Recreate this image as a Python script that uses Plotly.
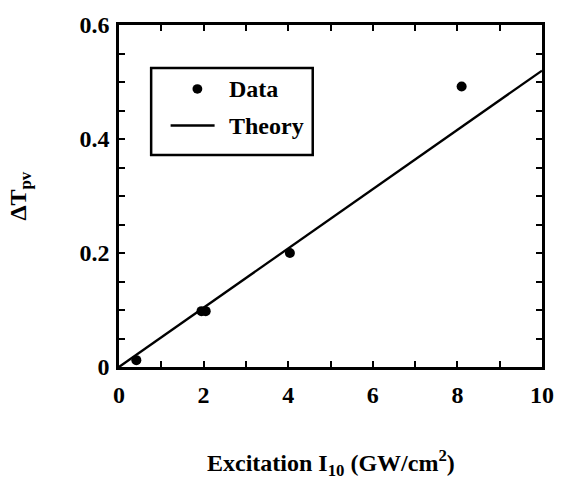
import plotly.graph_objects as go

# Measured pump-probe signal versus excitation intensity
excitation = [0.41, 1.95, 2.05, 4.04, 8.10]
delta_t = [0.012, 0.098, 0.098, 0.200, 0.492]

# Linear theory curve
theory_x = [0.0, 10.0]
theory_y = [0.0, 0.52]

x_ticks = [0, 2, 4, 6, 8, 10]
x_tick_text = ["0", "2", "4", "6", "8", "10"]
y_ticks = [0, 0.2, 0.4, 0.6]
y_tick_text = ["0", "0.2", "0.4", "0.6"]

FONT = "Liberation Serif"
BLACK = "#000000"
BOLD = dict(family=FONT, size=24, color=BLACK, weight="bold")

fig = go.Figure()
fig.add_trace(go.Scatter(
    x=theory_x, y=theory_y, mode="lines",
    line=dict(color=BLACK, width=2.3), name="Theory", showlegend=False,
))
fig.add_trace(go.Scatter(
    x=excitation, y=delta_t, mode="markers",
    marker=dict(color=BLACK, size=10), name="Data", showlegend=False,
))

axis_common = dict(
    showline=True, linecolor=BLACK, linewidth=2.5, mirror="allticks",
    ticks="inside", ticklen=6, tickwidth=2, tickcolor=BLACK,
    showgrid=False, zeroline=False,
    tickfont=BOLD,
)

fig.update_xaxes(
    range=[0, 10], tickvals=x_ticks, ticktext=x_tick_text,
    minor=dict(dtick=1, ticks="inside", ticklen=6, tickwidth=2, tickcolor=BLACK, showgrid=False),
    ticklabelstandoff=4,
    **axis_common,
)
fig.update_yaxes(
    range=[0, 0.6], tickvals=y_ticks, ticktext=y_tick_text,
    minor=dict(dtick=0.05, ticks="inside", ticklen=6, tickwidth=2, tickcolor=BLACK, showgrid=False),
    ticklabelstandoff=2,
    **axis_common,
)

# Hand-built legend box inside the plot area
legend_x0, legend_x1 = 0.076, 0.458
legend_y0, legend_y1 = 0.620, 0.874
shapes = [
    dict(type="rect", xref="paper", yref="paper",
         x0=legend_x0, x1=legend_x1, y0=legend_y0, y1=legend_y1,
         line=dict(color=BLACK, width=2.5), fillcolor="white", layer="above"),
    dict(type="circle", xref="paper", yref="paper",
         x0=0.1737, x1=0.1969, y0=0.799, y1=0.827,
         line=dict(color=BLACK, width=0), fillcolor=BLACK, layer="above"),
    dict(type="line", xref="paper", yref="paper",
         x0=0.122, x1=0.226, y0=0.706, y1=0.706,
         line=dict(color=BLACK, width=2.5), layer="above"),
]

annotations = [
    dict(text="Data", xref="paper", yref="paper", x=0.255, y=0.813,
         xanchor="left", yanchor="middle", showarrow=False, font=BOLD),
    dict(text="Theory", xref="paper", yref="paper", x=0.255, y=0.706,
         xanchor="left", yanchor="middle", showarrow=False, font=BOLD),
    dict(text="Excitation I<sub>10</sub> (GW/cm<sup>2</sup>)",
         xref="paper", yref="paper", x=0.5, y=-0.28,
         xanchor="center", yanchor="middle", showarrow=False, font=BOLD),
    dict(text="ΔT<sub>pv</sub>", xref="paper", yref="paper",
         x=-0.235, y=0.5, xanchor="center", yanchor="middle", showarrow=False,
         textangle=-90, font=BOLD),
]

fig.update_layout(
    width=566, height=482,
    margin=dict(l=119, r=16, t=16, b=115),
    paper_bgcolor="white", plot_bgcolor="white",
    shapes=shapes, annotations=annotations,
    showlegend=False,
)

fig.write_html("out.html")
